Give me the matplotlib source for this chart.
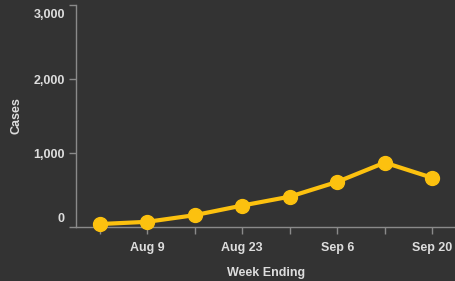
import matplotlib
matplotlib.use("Agg")
import matplotlib.pyplot as plt
import matplotlib.transforms as mtrans
from datetime import datetime, timedelta

weeks = ["2020-08-02", "2020-08-09", "2020-08-16", "2020-08-23",
         "2020-08-30", "2020-09-06", "2020-09-13", "2020-09-20"]
cases = [40, 70, 160, 290, 410, 610, 870, 665]
x_labels = ["", "Aug 9", "", "Aug 23", "", "Sep 6", "", "Sep 20"]
y_ticks = [0, 1000, 2000, 3000]
y_labels = ["0", "1,000", "2,000", "3,000"]

bg = "#333333"
txt = "#dddddd"
axc = "#8a8a8a"
gold = "#FCC10F"

dates = [datetime.strptime(d, "%Y-%m-%d") for d in weeks]

fig = plt.figure(figsize=(4.56, 2.81), dpi=100, facecolor=bg)
ax = fig.add_axes([76/456, 54/281, 380/456, 222/281])
ax.set_facecolor(bg)

ax.plot(dates, cases, color=gold, lw=3, marker="o", ms=10, mec=gold, mfc=gold,
        solid_capstyle="round", clip_on=False, zorder=3)

ax.set_xlim(dates[0] - timedelta(days=3.5), dates[-1] + timedelta(days=3.5))
ax.set_ylim(0, 3000)

ax.set_xticks(dates)
ax.set_xticklabels(x_labels)
ax.set_yticks(y_ticks)
ax.set_yticklabels(y_labels)

ax.tick_params(axis="both", colors=axc, labelcolor=txt, labelsize=9, length=5, width=1)
ax.tick_params(axis="x", pad=6)
ax.tick_params(axis="y", pad=3)
for lab in ax.get_xticklabels() + ax.get_yticklabels():
    lab.set_fontweight("bold")
    lab.set_family("Liberation Sans")

ylabs = ax.get_yticklabels()
ylabs[0].set_va("bottom")
ylabs[0].set_transform(ylabs[0].get_transform() + mtrans.ScaledTranslation(0, 2/100, fig.dpi_scale_trans))
ylabs[-1].set_va("top")
ylabs[-1].set_transform(ylabs[-1].get_transform() + mtrans.ScaledTranslation(0, -4/100, fig.dpi_scale_trans))

for s in ["top", "right"]:
    ax.spines[s].set_visible(False)
for s in ["left", "bottom"]:
    ax.spines[s].set_color(axc)
    ax.spines[s].set_linewidth(1)

ax.set_xlabel("Week Ending", color=txt, fontsize=9, fontweight="bold",
              family="Liberation Sans", labelpad=9)
ax.set_ylabel("Cases", color=txt, fontsize=9, fontweight="bold",
              family="Liberation Sans", labelpad=8)

fig.savefig("out.png", dpi=100, facecolor=bg)
